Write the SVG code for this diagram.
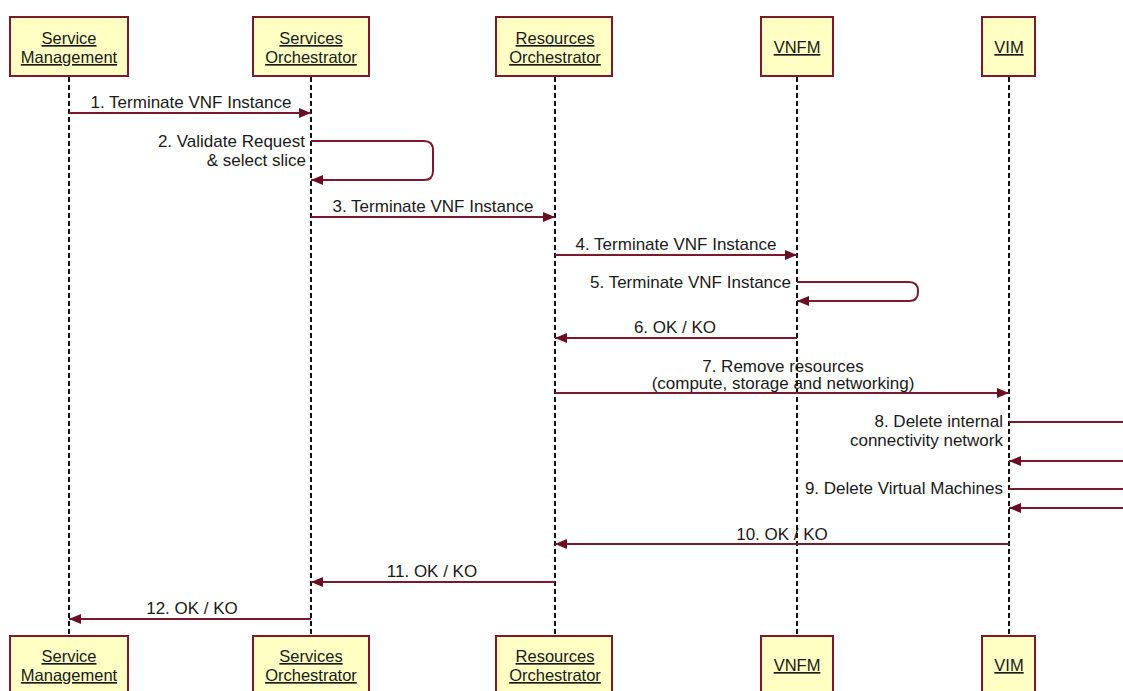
<svg xmlns="http://www.w3.org/2000/svg" width="1123" height="691" viewBox="0 0 1123 691">
<style>
.box{fill:#ffffc4;stroke:#7a1a2c;stroke-width:2}
.bt{font-family:"Liberation Sans",Arial,sans-serif;font-size:16.5px;fill:#1a1a1a;text-anchor:middle;text-decoration:underline}
.life{stroke:#111;stroke-width:2;stroke-dasharray:5 3;fill:none}
.msg{stroke:#7a1a2c;stroke-width:2;fill:none}
.lbl{font-family:"Liberation Sans",Arial,sans-serif;font-size:17px;fill:#1a1a1a}
.m{text-anchor:middle}
.e{text-anchor:end}
</style>
<defs>
<marker id="ah" viewBox="0 0 12 10" refX="12" refY="5" markerWidth="12" markerHeight="10" markerUnits="userSpaceOnUse" orient="auto">
<path d="M0,0 L12,5 L0,10 Z" fill="#6a0f22"/>
</marker>
</defs>
<rect width="1123" height="691" fill="#fff"/>
<g id="lifelines">
<line class="life" x1="69" y1="77" x2="69" y2="636"/>
<line class="life" x1="311" y1="77" x2="311" y2="636"/>
<line class="life" x1="555" y1="77" x2="555" y2="636"/>
<line class="life" x1="797" y1="77" x2="797" y2="636"/>
<line class="life" x1="1009" y1="77" x2="1009" y2="636"/>
</g>
<g id="sm-top"><rect class="box" x="10" y="17" width="118" height="59"/><text class="bt" x="69" y="44">Service</text><text class="bt" x="69" y="63">Management</text></g>
<g id="so-top"><rect class="box" x="253" y="17" width="116" height="59"/><text class="bt" x="311" y="44">Services</text><text class="bt" x="311" y="63">Orchestrator</text></g>
<g id="ro-top"><rect class="box" x="496" y="17" width="116" height="59"/><text class="bt" x="555" y="44">Resources</text><text class="bt" x="555" y="63">Orchestrator</text></g>
<g id="vnfm-top"><rect class="box" x="761" y="17" width="72" height="59"/><text class="bt" x="797" y="53">VNFM</text></g>
<g id="vim-top"><rect class="box" x="982" y="17" width="53" height="59"/><text class="bt" x="1009" y="53">VIM</text></g>
<g id="sm-bot"><rect class="box" x="10" y="636" width="118" height="62"/><text class="bt" x="69" y="662">Service</text><text class="bt" x="69" y="681">Management</text></g>
<g id="so-bot"><rect class="box" x="253" y="636" width="116" height="62"/><text class="bt" x="311" y="662">Services</text><text class="bt" x="311" y="681">Orchestrator</text></g>
<g id="ro-bot"><rect class="box" x="496" y="636" width="116" height="62"/><text class="bt" x="555" y="662">Resources</text><text class="bt" x="555" y="681">Orchestrator</text></g>
<g id="vnfm-bot"><rect class="box" x="761" y="636" width="72" height="62"/><text class="bt" x="797" y="671">VNFM</text></g>
<g id="vim-bot"><rect class="box" x="982" y="636" width="53" height="62"/><text class="bt" x="1009" y="671">VIM</text></g>
<g id="connectors">
<line class="msg" x1="69" y1="113" x2="311" y2="113" marker-end="url(#ah)"/>
<path class="msg" d="M311,141 H424 Q433,141 433,150 V171 Q433,180 424,180 H311" marker-end="url(#ah)"/>
<line class="msg" x1="311" y1="217" x2="555" y2="217" marker-end="url(#ah)"/>
<line class="msg" x1="555" y1="255" x2="797" y2="255" marker-end="url(#ah)"/>
<path class="msg" d="M797,282 H909 Q918,282 918,291 V292 Q918,301 909,301 H797" marker-end="url(#ah)"/>
<line class="msg" x1="797" y1="338" x2="555" y2="338" marker-end="url(#ah)"/>
<line class="msg" x1="555" y1="393" x2="1009" y2="393" marker-end="url(#ah)"/>
<path class="msg" d="M1009,422 H1130 V461 H1009" marker-end="url(#ah)"/>
<path class="msg" d="M1009,489 H1130 V508 H1009" marker-end="url(#ah)"/>
<line class="msg" x1="1009" y1="544" x2="555" y2="544" marker-end="url(#ah)"/>
<line class="msg" x1="555" y1="582" x2="311" y2="582" marker-end="url(#ah)"/>
<line class="msg" x1="311" y1="619" x2="69" y2="619" marker-end="url(#ah)"/>
</g>
<g id="labels">
<text class="lbl m" x="191" y="108">1. Terminate VNF Instance</text>
<text class="lbl e" x="305" y="147">2. Validate Request</text>
<text class="lbl e" x="306" y="166">&amp; select slice</text>
<text class="lbl m" x="433" y="212">3. Terminate VNF Instance</text>
<text class="lbl m" x="676" y="250">4. Terminate VNF Instance</text>
<text class="lbl e" x="791" y="288">5. Terminate VNF Instance</text>
<text class="lbl m" x="675" y="333">6. OK / KO</text>
<text class="lbl m" x="783" y="372">7. Remove resources</text>
<text class="lbl m" x="783" y="389">(compute, storage and networking)</text>
<text class="lbl e" x="1003" y="427">8. Delete internal</text>
<text class="lbl e" x="1003" y="446">connectivity network</text>
<text class="lbl e" x="1003" y="494">9. Delete Virtual Machines</text>
<text class="lbl m" x="782" y="540">10. OK / KO</text>
<text class="lbl m" x="432" y="577">11. OK / KO</text>
<text class="lbl m" x="192" y="614">12. OK / KO</text>
</g>
</svg>
